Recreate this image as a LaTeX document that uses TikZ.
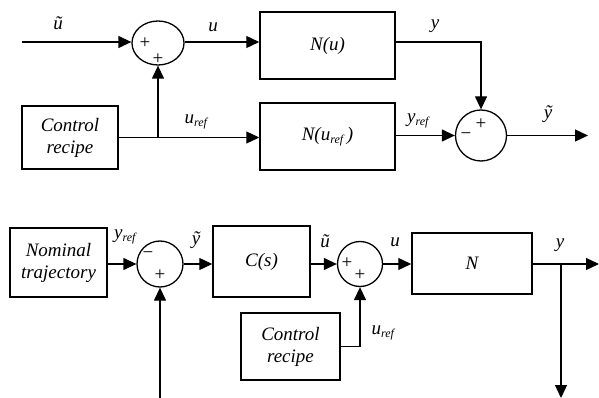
\documentclass[tikz,border=0pt]{standalone}
\usepackage{fontspec}
\setmainfont{Liberation Serif}
\usetikzlibrary{arrows.meta,shapes.geometric}
\newcommand{\rf}{\textsubscript{\fontsize{12}{12}\selectfont\itshape ref}}
\begin{document}
\begin{tikzpicture}[x=1pt,y=-1pt,
  line width=1.3pt,
  >={Triangle[length=13pt,width=12pt]},
  blk/.style={draw,line width=1.5pt,inner sep=0pt,font=\fontsize{19}{22}\selectfont\itshape,align=center},
  sumc/.style={draw,circle,line width=1.3pt,inner sep=0pt},
  lbl/.style={font=\fontsize{19}{22}\selectfont\itshape,inner sep=0pt},
  sgn/.style={font=\fontsize{19}{19}\selectfont,inner sep=0pt}]
\useasboundingbox (0,0) rectangle (599,398);
% ---------- top diagram ----------
\coordinate (in1) at (22,42);
\node[draw,ellipse,line width=1.3pt,inner sep=0pt,minimum width=52pt,minimum height=44pt] (sum1) at (158,43) {};
\node[blk,minimum width=135pt,minimum height=67pt] (Nu) at (327.5,45.5) {N(u)};
\node[blk,minimum width=96pt,minimum height=63pt] (cr1) at (70,137.5) {Control\\recipe};
\node[blk,minimum width=135pt,minimum height=67pt] (Nuref) at (327.5,136.5) {N(u\rf\,)};
\node[sumc,minimum size=51pt] (sum2) at (481,135.5) {};
\coordinate (j1) at (sum1.south |- cr1.east);
\coordinate (out1) at (588,135.5);
\draw[->] (in1) -- (in1 -| sum1.west);
\draw[->] (sum1.east |- in1) -- (in1 -| Nu.west);
\draw (cr1.east) -- (j1);
\draw[->] (j1) -- (sum1.south);
\draw[->] (j1) -- (j1 -| Nuref.west);
\draw[->] (Nu.east |- in1) -| (sum2.north);
\draw[->] (Nuref.east |- sum2.west) -- (sum2.west);
\draw[->] (sum2.east) -- (out1);
\node[lbl] (l1) at (58,23) {\~{u}};
\node[lbl] (l2) at (213,27) {u};
\node[lbl] (l3) at (196,122) {u\rf};
\node[lbl] (l4) at (435,26) {y};
\node[lbl] (l5) at (418,121) {y\rf};
\node[lbl] (l6) at (548,114) {\~{y}};
\node[sgn] (s1) at (145,43) {+};
\node[sgn] (s2) at (158,59) {+};
\node[sgn] (s3) at (466,136) {−};
\node[sgn] (s4) at (481,124) {+};
% ---------- bottom diagram ----------
\node[blk,minimum width=97pt,minimum height=69pt] (nt) at (58.5,262.5) {Nominal\\trajectory};
\node[sumc,minimum size=46pt] (sum3) at (160,264) {};
\node[blk,minimum width=97pt,minimum height=71pt] (Cs) at (261.5,261.5) {C(s)};
\node[sumc,minimum size=45pt] (sum4) at (360,264) {};
\node[blk,minimum width=120pt,minimum height=61pt] (N) at (472,263.5) {N};
\node[blk,minimum width=99pt,minimum height=67pt] (cr2) at (290.5,346.5) {Control\\recipe};
\coordinate (j2) at (561,264);
\coordinate (out2) at (599,264);
\coordinate (down2) at (561,398);
\coordinate (fb) at (160,398);
\draw[->] (nt.east |- sum3.west) -- (sum3.west);
\draw[->] (sum3.east) -- (sum3.east -| Cs.west);
\draw[->] (Cs.east |- sum4.west) -- (sum4.west);
\draw[->] (sum4.east) -- (sum4.east -| N.west);
\draw (N.east |- j2) -- (j2);
\draw[->] (j2) -- (out2);
\draw[->] (j2) -- (down2);
\draw[->] (cr2.east) -| (sum4.south);
\draw[->] (fb) -- (sum3.south);
\node[lbl] (m1) at (125,237) {y\rf};
\node[lbl] (m2) at (196,240) {\~{y}};
\node[lbl] (m3) at (325,241) {\~{u}};
\node[lbl] (m4) at (395,242) {u};
\node[lbl] (m5) at (560,245) {y};
\node[lbl] (m6) at (383,333) {u\rf};
\node[sgn] (t1) at (148,255) {−};
\node[sgn] (t2) at (160,275) {+};
\node[sgn] (t3) at (347,263) {+};
\node[sgn] (t4) at (360,275) {+};
\end{tikzpicture}
\end{document}
